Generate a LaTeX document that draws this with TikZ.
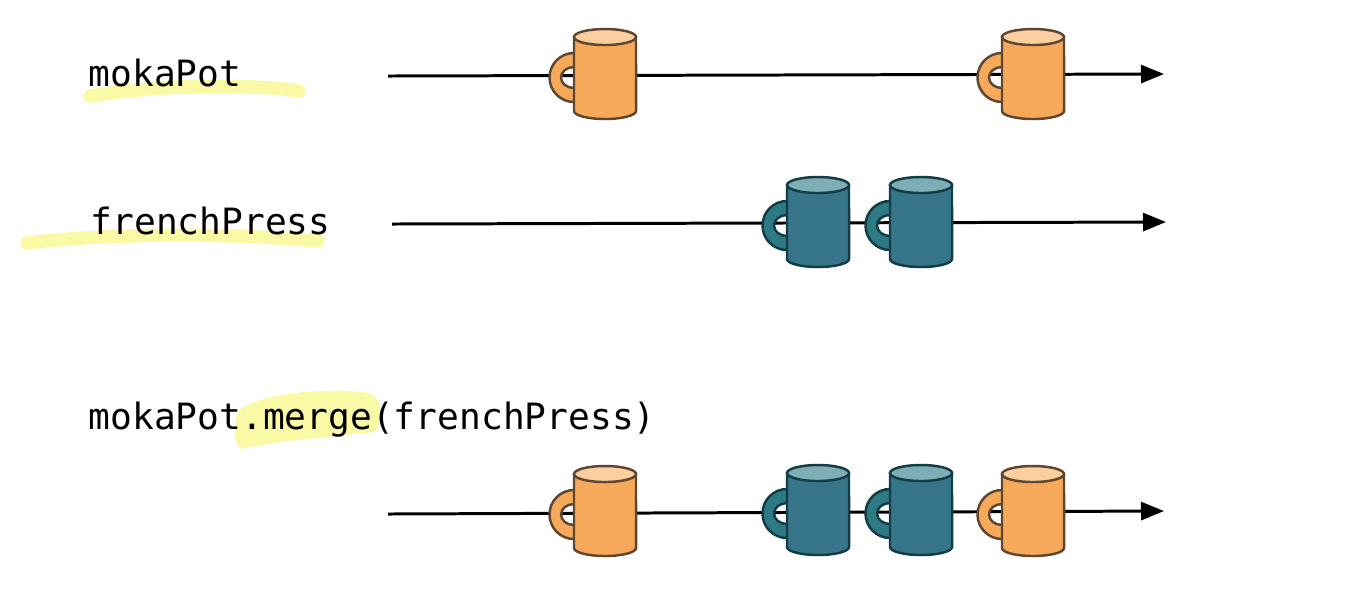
\documentclass[tikz,border=0pt]{standalone}
\usepackage{fontspec}
\setmonofont{DejaVu Sans Mono}
\usetikzlibrary{arrows.meta}

\definecolor{mokaBody}{HTML}{F6A95A}
\definecolor{mokaTop}{HTML}{FBCFA0}
\definecolor{mokaEdge}{HTML}{5E4630}
\definecolor{pressBody}{HTML}{36758A}
\definecolor{pressGrip}{HTML}{2E7A84}
\definecolor{mokaGrip}{HTML}{F6A95A}
\definecolor{pressTop}{HTML}{7FADB6}
\definecolor{pressEdge}{HTML}{123C46}
\definecolor{marker}{HTML}{FAFAA6}

\tikzset{
  codelabel/.style={anchor=base west, inner sep=0pt, font=\ttfamily\fontsize{10.3}{12}\selectfont, text=black},
  flowline/.style={line width=0.85pt, -{Triangle[length=0.23cm, width=0.18cm]}},
  markstroke/.style={draw=marker, line width=3.8pt, line cap=round, line join=round}
}

% #1 name, #2 x, #3 y, #4 colour prefix
\newcommand{\mug}[4]{
  \coordinate (#1) at (#2,#3);
  \begin{scope}[shift={(#1)}, draw=#4Edge, line width=0.7pt]
    \path[draw, fill=#4Grip, even odd rule] (-31,3.5) circle [radius=0.245cm] (-31,3.5) ellipse [x radius=0.13cm, y radius=0.105cm];
    \path[draw, fill=#4Body] (-31,-37) -- (-31,37) arc [start angle=180, end angle=360, x radius=0.31cm, y radius=0.08cm] -- (31,-37) -- cycle;
    \path[draw, fill=#4Top] (0,-37) ellipse [x radius=0.31cm, y radius=0.08cm];
  \end{scope}
}

\begin{document}
\begin{tikzpicture}[x=0.01cm, y=-0.01cm]
  \useasboundingbox (0,0) rectangle (1354,614);

  % Highlights
  \draw[markstroke] (90,96) .. controls (140,87) and (240,82) .. (299,91);
  \draw[markstroke] (27,243) .. controls (100,234) and (220,232) .. (318,241);
  \fill[marker] (238,412) .. controls (255,392) and (340,386) .. (372,394)
    .. controls (384,402) and (382,425) .. (374,432)
    .. controls (340,436) and (285,440) .. (240,449) .. controls (232,437) and (234,422) .. (238,412) -- cycle;

  % Labels
  \node[codelabel] (mokaLabel) at (88,86) {mokaPot};
  \node[codelabel] (pressLabel) at (90,234) {frenchPress};
  \node[codelabel] (mergeLabel) at (88,429) {mokaPot.merge(frenchPress)};

  % Line ends
  \coordinate (mokaStart) at (388,76);
  \coordinate (mokaEnd) at (1164,74);
  \coordinate (pressStart) at (392,224);
  \coordinate (pressEnd) at (1166,222);
  \coordinate (mergeStart) at (388,514);
  \coordinate (mergeEnd) at (1164,511);

  % Lines
  \draw[flowline] (mokaStart) -- (mokaEnd);
  \draw[flowline] (pressStart) -- (pressEnd);
  \draw[flowline] (mergeStart) -- (mergeEnd);

  % Mugs
  \mug{mokaA}{605}{74}{moka}
  \mug{mokaB}{1033}{74}{moka}
  \mug{pressA}{818}{222}{press}
  \mug{pressB}{921}{222}{press}
  \mug{mergeA}{605}{511}{moka}
  \mug{mergeB}{818}{510}{press}
  \mug{mergeC}{921}{510}{press}
  \mug{mergeD}{1033}{511}{moka}
\end{tikzpicture}
\end{document}
